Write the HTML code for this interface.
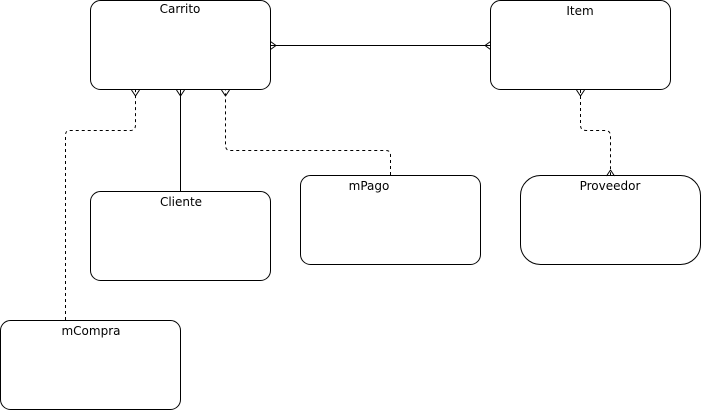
<!DOCTYPE html>
<html><head><style>
html,body{margin:0;padding:0;background:#fff;}
svg{display:block;}
text{font-family:"DejaVu Sans","Liberation Sans",sans-serif;font-size:12px;fill:#000;}
</style></head><body>
<svg width="701" height="411" viewBox="0 0 701 411" xmlns="http://www.w3.org/2000/svg">
<g fill="#fff" stroke="#000" stroke-width="1">
<rect x="90.5" y="0.5" width="180" height="89" rx="10"/>
<rect x="490.5" y="0.5" width="180" height="89" rx="10"/>
<rect x="90.5" y="191.5" width="180" height="89" rx="10"/>
<rect x="300.5" y="175.5" width="180" height="89" rx="10"/>
<rect x="520.5" y="175.5" width="180" height="89" rx="20"/>
<rect x="0.5" y="320.5" width="180" height="89" rx="10"/>
</g>
<g fill="none" stroke="#000" stroke-width="1">
<path d="M270.5 45.5 H490.5"/>
<path d="M276 45.5 L270.5 41.5 M276 45.5 L270.5 49.5"/>
<path d="M485 45.5 L490.5 41.5 M485 45.5 L490.5 49.5"/>
<path d="M180.5 90 V191"/>
<path d="M180.5 96 L176.5 90 M180.5 96 L184.5 90"/>
<path d="M135.5 96 L131.5 90 M135.5 96 L139.5 90"/>
<path d="M225.5 96 L221.5 90 M225.5 96 L229.5 90"/>
<path d="M580.5 96 L576.5 90 M580.5 96 L584.5 90"/>
<path d="M610.5 170 L606.5 176 M610.5 170 L614.5 176"/>
<g stroke-dasharray="3 3">
<path d="M65.5 320 V135 Q65.5 130.5 70 130.5 H130 Q135.5 130.5 135.5 125 V90"/>
<path d="M390.5 175 V155 Q390.5 150.5 386 150.5 H230 Q225.5 150.5 225.5 145 V90"/>
<path d="M580.5 90 V125 Q580.5 130.5 586 130.5 H605 Q610.5 130.5 610.5 136 V176"/>
</g>
</g>
<text x="180" y="13" text-anchor="middle">Carrito</text>
<text x="580" y="15" text-anchor="middle">Item</text>
<text x="181" y="206" text-anchor="middle">Cliente</text>
<text x="369" y="190" text-anchor="middle">mPago</text>
<text x="610" y="190" text-anchor="middle">Proveedor</text>
<text x="91" y="335" text-anchor="middle">mCompra</text>
</svg>
</body></html>
